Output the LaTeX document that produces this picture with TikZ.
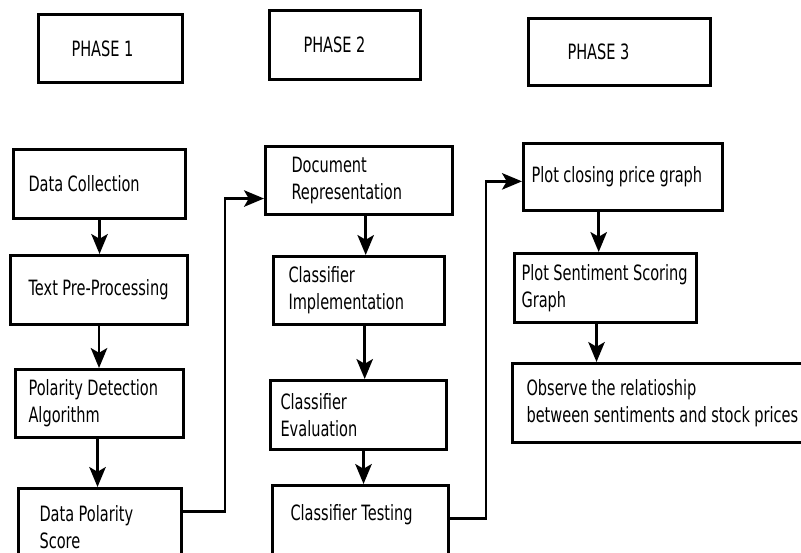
\documentclass[tikz,border=0pt]{standalone}
\usepackage{fontspec}
\setmainfont{DejaVu Sans}[FakeStretch=0.69]
\usepackage{tikz}
\usetikzlibrary{arrows.meta,positioning}

\begin{document}
\begin{tikzpicture}[
            x=0.03cm, y=-0.03cm,
            >={Stealth[length=17pt,width=14pt,inset=4pt]},
            box/.style={
                draw, line width=2.6pt, anchor=north west, align=left,
                inner ysep=0pt, font=\fontsize{18pt}{23pt}\selectfont,
                execute at begin node={\spaceskip=3.8pt\xspaceskip=3.8pt\relax}
            },
            arrow_style/.style={->, line width=2.4pt}
        ]
        \clip (0,0) rectangle (801,553);

        % Phase headers
        \node[box, minimum width=4.32cm, minimum height=2.04cm, text width=2.34cm, inner xsep=0.99cm] (ph1) at (37,13) {PHASE 1};
        \node[box, minimum width=4.53cm, minimum height=2.07cm, text width=2.49cm, inner xsep=1.02cm] (ph2) at (268,9) {PHASE 2};
        \node[box, minimum width=5.46cm, minimum height=2.01cm, text width=3.12cm, inner xsep=1.17cm] (ph3) at (527,17) {PHASE 3};

        % Phase 1 column
        \node[box, minimum width=5.16cm, minimum height=2.07cm, text width=4.26cm, inner xsep=0.45cm] (dc) at (12,148) {Data Collection};
        \node[box, minimum width=5.31cm, minimum height=2.07cm, text width=4.23cm, inner xsep=0.54cm] (tpp) at (9,254) {Text Pre-Processing};
        \node[box, minimum width=5.04cm, minimum height=2.04cm, text width=4.26cm, inner xsep=0.39cm] (pda) at (14,368) {Polarity Detection\\Algorithm};
        \node[box, minimum width=4.89cm, minimum height=2.34cm, text width=3.63cm, inner xsep=0.63cm] (dps) at (17,487) {Data Polarity\\Score};

        % Phase 2 column
        \node[box, minimum width=5.61cm, minimum height=2.04cm, text width=4.05cm, inner xsep=0.78cm] (docrep) at (264,145) {Document\\Representation};
        \node[box, minimum width=5.13cm, minimum height=2.04cm, text width=4.23cm, inner xsep=0.45cm] (ci) at (272,255) {Classifier\\Implementation};
        \node[box, minimum width=5.28cm, minimum height=2.07cm, text width=4.68cm, inner xsep=0.30cm] (ce) at (269,379) {Classifier\\Evaluation};
        \node[box, minimum width=5.28cm, minimum height=2.43cm, text width=4.20cm, inner xsep=0.54cm] (ct) at (271,484) {Classifier Testing\\~};

        % Phase 3 column
        \node[box, minimum width=5.97cm, minimum height=2.01cm, text width=5.49cm, inner xsep=0.24cm] (pcp) at (522,142) {Plot closing price graph};
        \node[box, minimum width=5.46cm, minimum height=2.07cm, text width=5.04cm, inner xsep=0.21cm] (psg) at (513,252) {Plot Sentiment Scoring\\Graph};
        \node[box, minimum width=9.60cm, minimum height=2.37cm, text width=8.76cm, inner xsep=0.42cm] (obs) at (511,362) {Observe the relatioship\\between sentiments and stock prices};

        % Arrows inside each column
        \draw[arrow_style] (dc) -- (dc |- tpp.north);
        \draw[arrow_style] (tpp) -- (tpp |- pda.north);
        \draw[arrow_style] ([xshift=-0.06cm]pda.south) -- ([xshift=-0.06cm]pda.south |- dps.north);
        \draw[arrow_style] ([xshift=0.2cm]docrep.south) -- ([xshift=0.2cm]docrep.south |- ci.north);
        \draw[arrow_style] ([xshift=0.17cm]ci.south) -- ([xshift=0.17cm]ci.south |- ce.north);
        \draw[arrow_style] ([xshift=0.15cm]ce.south) -- ([xshift=0.15cm]ce.south |- ct.north);
        \draw[arrow_style] ([xshift=-0.73cm]pcp.south) -- ([xshift=-0.73cm]pcp.south |- psg.north);
        \draw[arrow_style] ([xshift=-0.27cm]psg.south) -- ([xshift=-0.27cm]psg.south |- obs.north);

        % Links between columns
        \draw[arrow_style] ([yshift=0.48cm]dps.east) -- ++(42,0) |- ([yshift=-0.54cm]docrep.west);
        \draw[arrow_style] ([yshift=0.22cm]ct.east) -- ++(36,0) |- ([yshift=-0.13cm]pcp.west);
        \end{tikzpicture}
\end{document}
